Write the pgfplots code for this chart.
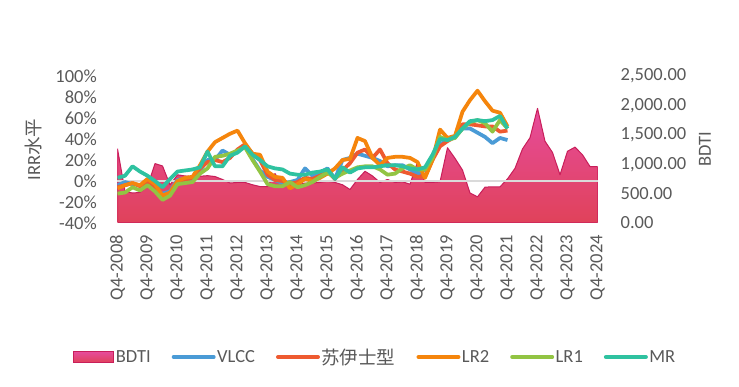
\documentclass[border=0pt]{standalone}
\usepackage{pgfplots}
\pgfplotsset{compat=1.18}
\usepackage{pgfplotstable}
\usepackage{fontspec}
\setmainfont{Carlito}
\newfontfamily\cjk{Noto Sans CJK SC}
\newcommand\cf{\fontsize{18.5pt}{22pt}\selectfont}
\definecolor{txt}{HTML}{595959}
\definecolor{bdtitop}{HTML}{E64C9C}
\definecolor{bdtibot}{HTML}{E0425A}
\definecolor{bdtiedge}{HTML}{C81E5A}
\definecolor{vlcc}{HTML}{4A9BD6}
\definecolor{suez}{HTML}{EE5A30}
\definecolor{lrtwo}{HTML}{F5850C}
\definecolor{lrone}{HTML}{92C443}
\definecolor{mr}{HTML}{2FC2A0}
\definecolor{zeroline}{HTML}{DADADA}

\pgfplotstableread{
i BDTI
0 1263
1 540
2 510
3 520
4 620
5 1010
6 970
7 650
8 820
9 800
10 790
11 795
12 805
13 790
14 740
15 680
16 690
17 690
18 650
19 620
20 620
21 840
22 650
23 620
24 650
25 680
26 680
27 690
28 710
29 690
30 650
31 570
32 740
33 880
34 800
35 690
36 740
37 690
38 700
39 660
40 1040
41 690
42 690
43 700
44 1280
45 1100
46 900
47 510
48 445
49 610
50 615
51 615
52 750
53 930
54 1260
55 1450
56 1950
57 1390
58 1200
59 820
60 1220
61 1290
62 1160
63 960
64 960
}\bdti

\pgfplotstableread{
i VLCC SUEZ LR2 LR1 MR
0 -4 -6 -7 -12 3
1 -1 -4 -4 -11 5
2 -3 -2 -2 -6 14
3 -4 -5 -4 -9 9
4 -3 0 2 -4 5
5 -9 -8 -3 -10 0
6 -12 -14 -14 -18 -6
7 -10 -12 -11 -14 2
8 1 -1 0 -3 9
9 2 1 3 -2 10
10 2 3 4 -1 11
11 10 12 15 7 13
12 20 18 28 12 28
13 20 20 37 23 14
14 29 18 41 24 14
15 25 22 45 26 24
16 28 30 48 29 27
17 34 35 36 32 33
18 21 26 26 20 25
19 10 20 25 9 20
20 4 6 9 -3 14
21 1 1 4 -5 12
22 -2 0 3 -5 11
23 -1 -3 -7 -1 7
24 1 -1 -3 -6 6
25 12 3 2 -4 6
26 5 2 0 -1 8
27 8 5 3 4 9
28 12 9 7 8 11
29 2 2 12 3 2
30 20 10 20 7 13
31 22 17 21 10 8
32 26 27 41 13 12
33 24 30 38 14 13
34 22 22 22 14 13
35 19 30 15 11 14
36 14 17 22 6 15
37 15 11 23 7 15
38 15 9 23 12 14
39 11 7 22 15 12
40 7 4 18 11 11
41 11 4 3 11 13
42 23 20 20 22 25
43 35 33 49 42 40
44 39 38 41 39 39
45 42 42 43 41 42
46 50 54 66 50 50
47 50 54 77 56 57
48 46 53 86 58 58
49 42 52 76 55 57
50 36 52 67 47 58
51 41 47 65 58 62
52 39 48 52 50 50
}\lines

\begin{document}
\begin{tikzpicture}[x=1pt,y=1pt]
\path[use as bounding box] (0,0) rectangle (739,387);
\begin{axis}[
  at={(117.5pt,164pt)}, anchor=south west, scale only axis,
  width=480pt, height=147pt,
  xmin=0, xmax=64, ymin=0, ymax=2500,
  axis line style={draw=none}, major tick length=0pt,
  xtick={0,4,...,64},
  xticklabels={Q4-2008,Q4-2009,Q4-2010,Q4-2011,Q4-2012,Q4-2013,Q4-2014,Q4-2015,Q4-2016,Q4-2017,Q4-2018,Q4-2019,Q4-2020,Q4-2021,Q4-2022,Q4-2023,Q4-2024},
  xticklabel style={yshift=-12pt, rotate=90, anchor=east, inner sep=0pt, font=\cf, text=txt},
  ytick={0,500,...,2500}, yticklabel pos=right,
  yticklabel style={anchor=west, inner sep=0pt, xshift=23pt, font=\cf, text=txt,
    /pgf/number format/.cd, fixed, fixed zerofill, precision=2, 1000 sep={,}, assume math mode=true},
  ylabel={BDTI},
  ylabel style={at={(axis description cs:1.224,0.5)}, anchor=center, font=\cf, text=txt},
]
\addplot[draw=bdtiedge, line width=1pt, line join=round, top color=bdtitop, bottom color=bdtibot, mark=none]
  table[x=i, y=BDTI] {\bdti} \closedcycle;
\end{axis}
\begin{axis}[
  at={(117.5pt,164pt)}, anchor=south west, scale only axis,
  width=480pt, height=147pt,
  xmin=0, xmax=64, ymin=-40, ymax=100,
  axis line style={draw=none}, major tick length=0pt,
  xtick=\empty,
  ytick={-40,-20,...,100},
  yticklabel={\pgfmathprintnumber[assume math mode=true]{\tick}\%},
  yticklabel style={anchor=east, inner sep=0pt, xshift=-20.5pt, font=\cf, text=txt},
  extra y ticks={0}, extra y tick labels={},
  extra y tick style={grid=major},
  major grid style={draw=zeroline, line width=1.6pt},
  ylabel={IRR{\cjk 水平}},
  ylabel style={at={(axis description cs:-0.176,0.5)}, anchor=center, font=\cf, text=txt},
  legend image code/.code={\draw[#1, line width=4pt, line cap=round] (0pt,0pt) -- (40pt,0pt);},
  legend style={at={(axis description cs:0.5365,-0.9116)}, anchor=center, draw=none, fill=none,
    legend columns=-1, font=\cf, text=txt,
    /tikz/every even column/.append style={column sep=19.5pt},
    nodes={inner sep=1.5pt}},
]
\addlegendimage{legend image code/.code={\draw[draw=bdtiedge, line width=1pt, top color=bdtitop, bottom color=bdtibot] (0pt,-5.5pt) rectangle (40pt,5.5pt);}}
\addlegendentry{BDTI}
\addplot[vlcc, line width=3.75pt, line join=round, mark=none] table[x=i, y=VLCC] {\lines};
\addlegendentry{VLCC}
\addplot[suez, line width=3.75pt, line join=round, mark=none] table[x=i, y=SUEZ] {\lines};
\addlegendentry{{\cjk 苏伊士型}}
\addplot[lrtwo, line width=3.75pt, line join=round, mark=none] table[x=i, y=LR2] {\lines};
\addlegendentry{LR2}
\addplot[lrone, line width=3.75pt, line join=round, mark=none] table[x=i, y=LR1] {\lines};
\addlegendentry{LR1}
\addplot[mr, line width=3.75pt, line join=round, mark=none] table[x=i, y=MR] {\lines};
\addlegendentry{MR}
\end{axis}
\end{tikzpicture}
\end{document}
